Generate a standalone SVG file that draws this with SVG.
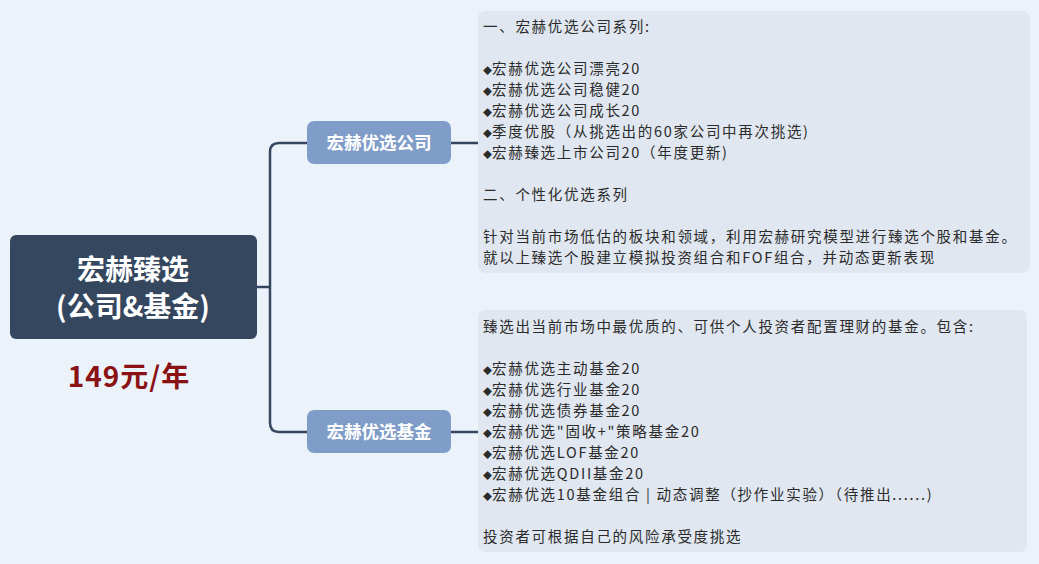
<svg xmlns="http://www.w3.org/2000/svg" width="1039" height="564" viewBox="0 0 1039 564">
<defs>
<style>
.bg{fill:#ebf2fa}
.note{fill:#e0e7f0}
.t{font-family:"Noto Sans CJK SC","Noto Sans",sans-serif;font-size:14.5px;letter-spacing:1.7px;fill:#2b2b2b}
.b{font-size:9px;letter-spacing:0}
.sub{fill:#7f9dc8}
.subt{font-family:"Noto Sans CJK SC","Noto Sans",sans-serif;font-size:17.5px;font-weight:bold;fill:#ffffff;text-anchor:middle}
.conn{fill:none;stroke:#34475f;stroke-width:2.5}
.rt{font-family:"Noto Sans CJK SC","Noto Sans",sans-serif;font-size:28px;font-weight:bold;fill:#ffffff;text-anchor:middle}
</style>
</defs>
<rect class="bg" x="0" y="0" width="1039" height="564"/>
<g id="connectors">
<path class="conn" d="M257 287 H270"/>
<path class="conn" d="M307 143 H279 Q270 143 270 152 V423 Q270 432 279 432 H307"/>
<path class="conn" d="M451 143 H478"/>
<path class="conn" d="M451 432 H478"/>
</g>
<g id="root">
<rect x="10" y="235" width="247" height="104" rx="6" fill="#34475f"/>
<text class="rt" x="133" y="280">宏赫臻选</text>
<text class="rt" x="133" y="317">(公司&amp;基金)</text>
</g>
<g id="price">
<text x="129" y="387" text-anchor="middle" font-family="Noto Sans CJK SC,Noto Sans,sans-serif" font-size="28" letter-spacing="1" font-weight="bold" fill="#8a1212">149元/年</text>
</g>
<g id="company">
<rect class="sub" x="307" y="121" width="144" height="43" rx="7"/>
<text class="subt" x="379" y="149">宏赫优选公司</text>
</g>
<g id="fund">
<rect class="sub" x="307" y="410" width="144" height="43" rx="7"/>
<text class="subt" x="379" y="438">宏赫优选基金</text>
</g>
<g id="company-note">
<rect class="note" x="478" y="11" width="552" height="262" rx="7"/>
<text class="t" x="483" y="32">一、宏赫优选公司系列:</text>
<text class="t" x="483" y="74"><tspan class="b">◆</tspan>宏赫优选公司漂亮20</text>
<text class="t" x="483" y="95"><tspan class="b">◆</tspan>宏赫优选公司稳健20</text>
<text class="t" x="483" y="116"><tspan class="b">◆</tspan>宏赫优选公司成长20</text>
<text class="t" x="483" y="137"><tspan class="b">◆</tspan>季度优股（从挑选出的60家公司中再次挑选)</text>
<text class="t" x="483" y="158"><tspan class="b">◆</tspan>宏赫臻选上市公司20（年度更新)</text>
<text class="t" x="483" y="200">二、个性化优选系列</text>
<text class="t" x="483" y="242">针对当前市场低估的板块和领域，利用宏赫研究模型进行臻选个股和基金。</text>
<text class="t" x="483" y="263">就以上臻选个股建立模拟投资组合和FOF组合，并动态更新表现</text>
</g>
<g id="fund-note">
<rect class="note" x="478" y="310" width="549" height="242" rx="7"/>
<text class="t" x="483" y="332">臻选出当前市场中最优质的、可供个人投资者配置理财的基金。包含:</text>
<text class="t" x="483" y="374"><tspan class="b">◆</tspan>宏赫优选主动基金20</text>
<text class="t" x="483" y="395"><tspan class="b">◆</tspan>宏赫优选行业基金20</text>
<text class="t" x="483" y="416"><tspan class="b">◆</tspan>宏赫优选债券基金20</text>
<text class="t" x="483" y="437"><tspan class="b">◆</tspan>宏赫优选"固收+"策略基金20</text>
<text class="t" x="483" y="458"><tspan class="b">◆</tspan>宏赫优选LOF基金20</text>
<text class="t" x="483" y="479"><tspan class="b">◆</tspan>宏赫优选QDII基金20</text>
<text class="t" x="483" y="500"><tspan class="b">◆</tspan>宏赫优选10基金组合 | 动态调整（抄作业实验）（待推出......)</text>
<text class="t" x="483" y="542">投资者可根据自己的风险承受度挑选</text>
</g>
</svg>
